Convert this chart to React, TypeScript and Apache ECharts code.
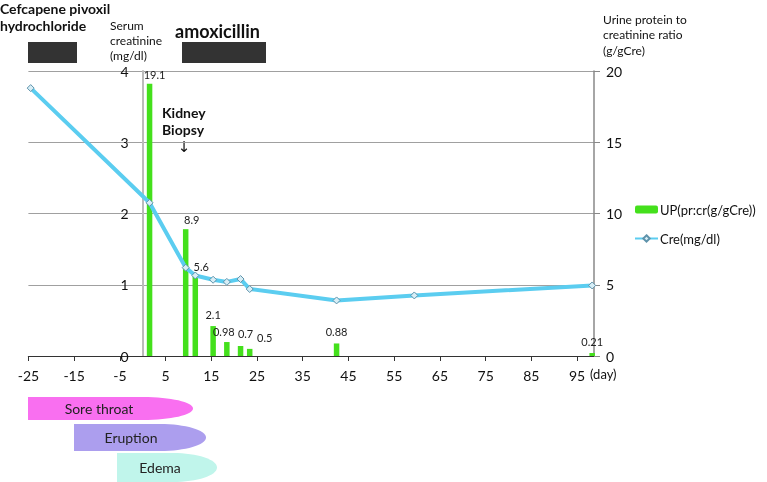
import React, { useEffect, useRef } from "react";
import * as echarts from "echarts";

const xTicks = [-25, -15, -5, 5, 15, 25, 35, 45, 55, 65, 75, 85, 95];
const creDays = [-24.5, 1.5, 9.4, 11.5, 15.4, 18.4, 21.4, 23.4, 42.4, 59.4, 98.3];
const creValues = [3.76, 2.15, 1.24, 1.13, 1.07, 1.04, 1.08, 0.94, 0.78, 0.85, 0.99];
const upDays = [1.5, 9.4, 11.5, 15.4, 18.4, 21.4, 23.4, 42.4, 98.3];
const upValues = [19.1, 8.9, 5.6, 2.1, 0.98, 0.7, 0.5, 0.88, 0.21];
const upLabelOffsets = [[5, 0], [6, 0], [6, 0], [0, -2], [-3, -1], [5, -3], [15, -2], [0, -2], [0, -2]];
const symptoms = ["Sore throat", "Eruption", "Edema"];

const FONT = "Lato, 'Open Sans', sans-serif";
const X_MIN = -25;
const X_MAX = 98.7;
const GRID_LEFT = 28.4;
const GRID_RIGHT = 173;
const WIDTH = 767;

export default function App() {
  const ref = useRef<HTMLDivElement>(null);
  useEffect(() => {
    if (!ref.current) return;
    const chart = echarts.init(ref.current, null, { renderer: "svg" });
    const plotW = WIDTH - GRID_LEFT - GRID_RIGHT;
    const zeroOffset = ((0 - X_MIN) / (X_MAX - X_MIN)) * plotW;
    const txt = (x: number, y: number, text: string, size: number, bold = false, extra: any = {}) => ({
      type: "text",
      x,
      y,
      style: {
        text,
        fontSize: size,
        fontWeight: bold ? "bold" : "normal",
        fontFamily: FONT,
        fill: "#111",
        textVerticalAlign: "middle",
        ...extra,
      },
    });
    const shape = (x0: number, x1: number, y0: number, y1: number, rx: number, color: string, label: string, cx: number) => ({
      type: "group",
      children: [
        { type: "rect", shape: { x: x0, y: y0, width: x1 - rx - x0, height: y1 - y0 }, style: { fill: color } },
        { type: "ellipse", shape: { cx: x1 - rx, cy: (y0 + y1) / 2, rx, ry: (y1 - y0) / 2 }, style: { fill: color } },
        {
          type: "text",
          x: cx,
          y: (y0 + y1) / 2,
          style: { text: label, fontSize: 14, fontFamily: FONT, fill: "#222", textAlign: "center", textVerticalAlign: "middle" },
        },
      ],
    });
    chart.setOption({
      animation: false,
      textStyle: { fontFamily: FONT },
      grid: { left: GRID_LEFT, right: GRID_RIGHT, top: 71, bottom: 126, containLabel: false },
      legend: {
        orient: "vertical",
        left: 634,
        top: 203,
        itemWidth: 23,
        itemHeight: 8,
        itemGap: 16,
        padding: 0,
        textStyle: { fontSize: 13, color: "#111", fontFamily: FONT, padding: [0, 0, 0, -3] },
        data: ["UP(pr:cr(g/gCre))", "Cre(mg/dl)"],
      },
      xAxis: {
        type: "value",
        min: X_MIN,
        max: X_MAX,
        interval: 10,
        splitLine: { show: false },
        axisLine: { onZero: false, lineStyle: { color: "#333", width: 1.2 } },
        axisTick: { show: true, length: 5, customValues: xTicks, lineStyle: { color: "#333" } },
        axisLabel: { customValues: xTicks, fontSize: 14, color: "#111", margin: 12 },
      },
      yAxis: [
        {
          type: "value",
          min: 0,
          max: 4,
          interval: 1,
          offset: -zeroOffset,
          axisLine: { show: true, onZero: false, lineStyle: { color: "#bbb", width: 2 } },
          axisTick: { show: false },
          axisLabel: { fontSize: 14, color: "#111", margin: 14 },
          splitLine: { show: true, lineStyle: { color: "#a0a0a0", width: 1 } },
        },
        {
          type: "value",
          position: "right",
          min: 0,
          max: 20,
          interval: 5,
          axisLine: { show: true, onZero: false, lineStyle: { color: "#888", width: 1.5 } },
          axisTick: { show: true, length: 6, lineStyle: { color: "#888" } },
          axisLabel: { fontSize: 14, color: "#111", margin: 12 },
          splitLine: { show: false },
        },
      ],
      series: [
        {
          name: "UP(pr:cr(g/gCre))",
          type: "bar",
          yAxisIndex: 1,
          barWidth: 5.5,
          itemStyle: { color: "#44E01C" },
          label: {
            show: true,
            position: "top",
            distance: 4,
            fontSize: 11,
            color: "#222",
            fontFamily: FONT,
          },
          data: upDays.map((d, i) => ({
            value: [d, upValues[i]],
            label: { offset: upLabelOffsets[i] },
          })),
        },
        {
          name: "Cre(mg/dl)",
          type: "line",
          yAxisIndex: 0,
          symbol: "diamond",
          symbolSize: 7,
          lineStyle: { color: "#5BCDF0", width: 4 },
          itemStyle: { color: "#d8eef6", borderColor: "#5f93ab", borderWidth: 1 },
          data: creDays.map((d, i) => [d, creValues[i]]),
          z: 3,
        },
      ],
      graphic: [
        txt(0, 8, "Cefcapene pivoxil", 14, true),
        txt(0, 25, "hydrochloride", 14, true),
        { type: "rect", shape: { x: 28, y: 42, width: 49, height: 21 }, style: { fill: "#333" } },
        txt(110, 25, "Serum", 12),
        txt(110, 40, "creatinine", 12),
        txt(110, 55, "(mg/dl)", 12),
        txt(175, 31, "amoxicillin", 18, true),
        { type: "rect", shape: { x: 182, y: 42, width: 84, height: 21 }, style: { fill: "#333" } },
        txt(603, 19, "Urine protein to", 12),
        txt(603, 34, "creatinine ratio", 12),
        txt(603, 50, "(g/gCre)", 12),
        txt(162, 112, "Kidney", 14, true),
        txt(162, 129, "Biopsy", 14, true),
        txt(184, 147, "↓", 15, false, { textAlign: "center", fontFamily: "DejaVu Sans" }),
        txt(590, 374, "(day)", 13),
        shape(28, 193, 397, 420, 50, "#F96FF0", symptoms[0], 99),
        shape(74, 206, 424, 451, 46, "#AC9EEE", symptoms[1], 131),
        shape(117, 217, 453, 482, 44, "#C0F5EB", symptoms[2], 160),
      ],
    });
    return () => chart.dispose();
  }, []);
  return <div ref={ref} style={{ position: "fixed", left: 0, top: 0, width: 767, height: 482 }} />;
}
